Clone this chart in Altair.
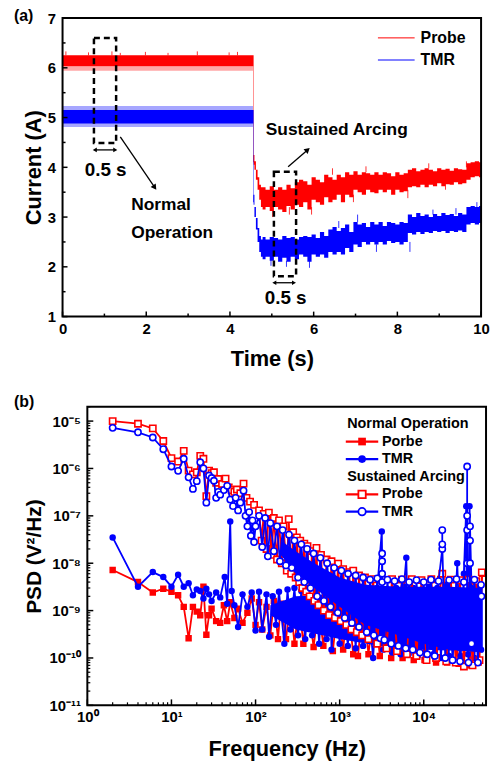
import altair as alt
import pandas as pd

FONT = "Liberation Sans"
RED = "#ff0000"
BLUE = "#0000ff"

# =================== (a) current vs time ===================
time_s = [0.0, 4.55, 4.56, 4.57, 4.60, 4.64, 4.68, 4.72, 4.76,
          4.8, 4.9, 5.0, 5.1, 5.2, 5.3, 5.4, 5.5, 5.6, 5.7, 5.8, 5.9,
          6.0, 6.1, 6.2, 6.3, 6.4, 6.5, 6.6, 6.7, 6.8, 6.9,
          7.0, 7.1, 7.2, 7.3, 7.4, 7.5, 7.6, 7.7, 7.8, 7.9,
          8.0, 8.1, 8.2, 8.3, 8.4, 8.5, 8.6, 8.7, 8.8, 8.9,
          9.0, 9.1, 9.2, 9.3, 9.4, 9.5, 9.6, 9.7, 9.8, 9.9, 10.0]
probe_lo = [6.03, 6.03, 4.10, 4.05, 3.95, 3.75, 3.55, 3.35, 3.20,
            3.15, 3.20, 3.12, 3.20, 3.15, 3.10, 3.22, 3.15, 3.25, 3.20, 3.30, 3.15,
            3.35, 3.30, 3.25, 3.40, 3.30, 3.35, 3.45, 3.30, 3.45, 3.40,
            3.55, 3.50, 3.45, 3.55, 3.50, 3.48, 3.55, 3.50, 3.55, 3.45,
            3.55, 3.50, 3.52, 3.60, 3.62, 3.60, 3.65, 3.60, 3.65, 3.62,
            3.68, 3.62, 3.66, 3.65, 3.70, 3.66, 3.68, 3.75, 3.80, 3.82, 3.80]
probe_hi = [6.25, 6.25, 6.25, 4.25, 4.12, 3.95, 3.80, 3.65, 3.60,
            3.60, 3.55, 3.62, 3.55, 3.60, 3.55, 3.65, 3.58, 3.70, 3.75, 3.72, 3.65,
            3.80, 3.75, 3.70, 3.85, 3.80, 3.75, 3.85, 3.80, 3.90, 3.85,
            3.92, 3.85, 3.90, 3.88, 3.85, 3.90, 3.85, 3.90, 3.88, 3.82,
            3.90, 3.85, 3.88, 3.95, 3.98, 3.92, 3.95, 3.98, 3.95, 3.92,
            3.98, 3.95, 3.97, 3.93, 3.98, 3.96, 3.95, 4.08, 4.10, 4.12, 4.10]
tmr_lo = [4.88, 4.88, 3.30, 3.25, 3.00, 2.75, 2.50, 2.30, 2.20,
          2.15, 2.20, 2.12, 2.20, 2.10, 2.18, 2.10, 2.20, 2.15, 2.25, 2.20, 2.10,
          2.25, 2.20, 2.25, 2.18, 2.30, 2.25, 2.30, 2.25, 2.38, 2.30,
          2.45, 2.40, 2.50, 2.45, 2.50, 2.45, 2.50, 2.45, 2.52, 2.48,
          2.50, 2.45, 2.50, 2.68, 2.65, 2.70, 2.66, 2.70, 2.68, 2.72,
          2.70, 2.72, 2.68, 2.72, 2.70, 2.73, 2.70, 2.85, 2.88, 2.85, 2.88]
tmr_hi = [5.15, 5.15, 5.15, 3.45, 3.20, 2.98, 2.78, 2.62, 2.55,
          2.60, 2.55, 2.60, 2.58, 2.55, 2.62, 2.58, 2.60, 2.55, 2.60, 2.62, 2.60,
          2.65, 2.58, 2.70, 2.62, 2.75, 2.80, 2.72, 2.78, 2.85, 2.70,
          2.90, 2.85, 2.88, 2.80, 2.90, 2.85, 2.90, 2.82, 2.90, 2.88,
          2.85, 2.90, 2.88, 3.05, 3.00, 3.08, 3.02, 3.05, 3.00, 3.06,
          3.02, 3.08, 3.04, 3.06, 3.02, 3.08, 3.05, 3.20, 3.22, 3.20, 3.22]

# light noise fringe during normal operation
fringe_t = [0.0, 4.55]
probe_fr_lo = [5.94, 5.94]
probe_fr_hi = [6.03, 6.03]
tmr_fr_lo = [4.81, 4.81]
tmr_fr_hi = [5.23, 5.23]

# isolated noise spikes
probe_spk_t = [0.08, 0.62, 1.18, 1.38, 1.98, 2.52, 3.22, 3.98, 4.18,
               5.02, 5.42, 5.95, 6.45, 6.95, 7.25, 8.25, 8.75, 9.15, 9.65]
probe_spk_lo = [6.25, 6.25, 6.25, 6.25, 6.25, 6.25, 6.25, 6.25, 6.25,
                3.00, 3.05, 3.05, 3.85, 3.30, 3.90, 3.38, 3.98, 3.55, 4.00]
probe_spk_hi = [6.33, 6.31, 6.33, 6.30, 6.32, 6.30, 6.33, 6.31, 6.32,
                3.15, 3.20, 3.20, 3.98, 3.45, 4.02, 3.55, 4.08, 3.68, 4.12]
tmr_spk_t = [4.98, 5.35, 5.90, 6.60, 7.05, 7.50, 8.30, 8.85, 9.40, 9.90]
tmr_spk_lo = [2.02, 2.00, 1.98, 2.78, 2.90, 2.30, 2.30, 3.05, 3.05, 3.20]
tmr_spk_hi = [2.15, 2.12, 2.12, 2.92, 3.05, 2.45, 2.50, 3.15, 3.18, 3.30]

# annotations (data coordinates)
box_t1 = [0.75, 5.05]
box_t2 = [1.28, 5.58]
box_v1 = [6.60, 3.91]
box_v2 = [4.49, 1.81]
span_t1 = [0.77, 5.06]
span_t2 = [1.26, 5.53]
span_v = [4.35, 1.68]
span_label = ["0.5 s", "0.5 s"]
span_label_t = [1.03, 5.33]
span_label_v = [3.95, 1.38]
arc_text = ["Sustained Arcing"]
arc_text_t = [4.855]
arc_text_v = [4.74]
norm_text = ["Normal", "Operation"]
norm_text_t = [1.64, 1.64]
norm_text_v = [3.24, 2.68]
arrow_norm = {"t1": [1.38], "v1": [4.61], "t2": [2.19], "v2": [3.61]}
arrow_arc = {"t1": [5.39], "v1": [4.01], "t2": [5.84], "v2": [4.34]}
legend_a = ["Probe", "TMR"]

a_x_major = [0, 2, 4, 6, 8, 10]
a_x_minor = [1, 3, 5, 7, 9]
a_y_major = [1, 2, 3, 4, 5, 6, 7]
a_y_minor = [1.5, 2.5, 3.5, 4.5, 5.5, 6.5]

WA, HA = 422, 301

sx_a = alt.Scale(domain=[0, 10], nice=False, zero=False)
sy_a = alt.Scale(domain=[1, 7], nice=False, zero=False)
ax_xa = alt.Axis(title="Time (s)", values=a_x_major, labelPadding=5, labelFlush=False,
                 titleY=42, titleBaseline="middle", titleAlign="center")
ax_ya = alt.Axis(title="Current (A)", values=a_y_major, labelPadding=7, labelFlush=False,
                 titleX=-29, titleY=HA / 2, titleAngle=270, titleBaseline="middle",
                 titleAlign="center")


def XA(f):
    return alt.X(f, type="quantitative", scale=sx_a, axis=ax_xa)


def YA(f):
    return alt.Y(f, type="quantitative", scale=sy_a, axis=ax_ya)


df_probe = pd.DataFrame({"t": time_s, "lo": probe_lo, "hi": probe_hi})
df_tmr = pd.DataFrame({"t": time_s, "lo": tmr_lo, "hi": tmr_hi})
df_pfr = pd.DataFrame({"t": fringe_t, "lo": probe_fr_lo, "hi": probe_fr_hi})
df_tfr = pd.DataFrame({"t": fringe_t, "lo": tmr_fr_lo, "hi": tmr_fr_hi})
df_pspk = pd.DataFrame({"t": probe_spk_t, "lo": probe_spk_lo, "hi": probe_spk_hi})
df_tspk = pd.DataFrame({"t": tmr_spk_t, "lo": tmr_spk_lo, "hi": tmr_spk_hi})

layers_a = []
layers_a.append(alt.Chart(df_pfr).mark_area(color=RED, opacity=0.35).encode(x=XA("t"), y=YA("lo"), y2="hi"))
layers_a.append(alt.Chart(df_tfr).mark_area(color=BLUE, opacity=0.35).encode(x=XA("t"), y=YA("lo"), y2="hi"))
layers_a.append(alt.Chart(df_probe).mark_area(color=RED, opacity=1, interpolate="step").encode(
    x=XA("t"), y=YA("lo"), y2="hi"))
layers_a.append(alt.Chart(df_tmr).mark_area(color=BLUE, opacity=1, interpolate="step").encode(
    x=XA("t"), y=YA("lo"), y2="hi"))
layers_a.append(alt.Chart(df_pspk).mark_rule(color=RED, strokeWidth=0.8).encode(x=XA("t"), y=YA("lo"), y2="hi"))
layers_a.append(alt.Chart(df_tspk).mark_rule(color=BLUE, strokeWidth=0.8).encode(x=XA("t"), y=YA("lo"), y2="hi"))

df_box = pd.DataFrame({"t1": box_t1, "t2": box_t2, "v1": box_v1, "v2": box_v2})
layers_a.append(alt.Chart(df_box).mark_rect(fillOpacity=0, stroke="black", strokeWidth=2.5,
                                            strokeDash=[6, 4]).encode(x=XA("t1"), x2="t2", y=YA("v1"), y2="v2"))
df_span = pd.DataFrame({"t1": span_t1, "t2": span_t2, "v": span_v})
layers_a.append(alt.Chart(df_span).mark_rule(color="black", strokeWidth=1.3).encode(x=XA("t1"), x2="t2", y=YA("v")))
layers_a.append(alt.Chart(df_span).mark_point(shape="triangle-left", filled=True, color="black", size=22, opacity=1)
                .encode(x=XA("t1"), y=YA("v")))
layers_a.append(alt.Chart(df_span).mark_point(shape="triangle-right", filled=True, color="black", size=22, opacity=1)
                .encode(x=XA("t2"), y=YA("v")))

for arr, ang in [(arrow_norm, 144.5), (arrow_arc, 48.7)]:
    d = pd.DataFrame(arr)
    layers_a.append(alt.Chart(d).mark_rule(color="black", strokeWidth=1.3)
                    .encode(x=XA("t1"), y=YA("v1"), x2="t2", y2="v2"))
    layers_a.append(alt.Chart(d).mark_point(shape="triangle", filled=True, color="black", size=40,
                                            opacity=1, angle=ang).encode(x=XA("t2"), y=YA("v2")))

df_sl = pd.DataFrame({"t": span_label_t, "v": span_label_v, "s": span_label})
layers_a.append(alt.Chart(df_sl).mark_text(font=FONT, fontWeight="bold", fontSize=19, align="center",
                                           baseline="middle", color="black").encode(x=XA("t"), y=YA("v"), text="s"))
df_at = pd.DataFrame({"t": arc_text_t + norm_text_t, "v": arc_text_v + norm_text_v, "s": arc_text + norm_text})
layers_a.append(alt.Chart(df_at).mark_text(font=FONT, fontWeight="bold", fontSize=17.5, align="left",
                                           baseline="middle", color="black").encode(x=XA("t"), y=YA("v"), text="s"))

# inward ticks
layers_a.append(alt.Chart(pd.DataFrame({"v": a_x_major})).mark_rule(color="black", strokeWidth=1.5)
                .encode(x=XA("v"), y=alt.value(HA), y2=alt.value(HA - 5)))
layers_a.append(alt.Chart(pd.DataFrame({"v": a_x_minor})).mark_rule(color="black", strokeWidth=1.5)
                .encode(x=XA("v"), y=alt.value(HA), y2=alt.value(HA - 3)))
layers_a.append(alt.Chart(pd.DataFrame({"v": a_y_major})).mark_rule(color="black", strokeWidth=1.5)
                .encode(y=YA("v"), x=alt.value(0), x2=alt.value(5)))
layers_a.append(alt.Chart(pd.DataFrame({"v": a_y_minor})).mark_rule(color="black", strokeWidth=1.5)
                .encode(y=YA("v"), x=alt.value(0), x2=alt.value(3)))

# legend (a)
for lab, col, yy in [(legend_a[0], RED, 20), (legend_a[1], BLUE, 42.3)]:
    d = pd.DataFrame({"s": [lab]})
    layers_a.append(alt.Chart(d).mark_rule(color=col, strokeWidth=1)
                    .encode(x=alt.value(318), x2=alt.value(355), y=alt.value(yy)))
    layers_a.append(alt.Chart(d).mark_text(font=FONT, fontWeight="bold", fontSize=16, align="left",
                                           baseline="middle", color="black")
                    .encode(x=alt.value(361), y=alt.value(yy), text="s"))

layers_a.append(alt.Chart(pd.DataFrame({"s": ["(a)"]})).mark_text(
    font=FONT, fontWeight="bold", fontSize=16, align="left", baseline="middle", color="black")
    .encode(x=alt.value(-49), y=alt.value(-2), text="s"))
# frame
layers_a.append(alt.Chart(pd.DataFrame({"s": ["frame"]})).mark_rect(
    fillOpacity=0, stroke="black", strokeWidth=2)
    .encode(x=alt.value(0), x2=alt.value(WA), y=alt.value(0), y2=alt.value(HA)))

chart_a = alt.layer(*layers_a).properties(width=WA, height=HA)

# =================== (b) PSD ===================
# Normal operation - Porbe (filled squares)
np_f = [2, 4, 6, 8, 10, 12, 14, 16, 18, 20, 22, 24, 26, 28, 30,
        34, 38, 42, 46, 50, 56, 62, 70, 80, 90, 100,
        110, 120, 135, 150, 165, 185, 200, 230, 260, 290,
        330, 370, 420, 490, 560, 640, 730, 830, 950, 1100,
        1250, 1450, 1650, 1900, 2200, 2600, 3000, 3500, 4100, 4800,
        5600, 6500, 7600, 8800, 10200, 12000, 14000, 16500, 19000, 22000,
        26000, 30000, 35000, 40000, 45000, 49500]
np_p = [7.2e-9, 4.0e-9, 2.4e-9, 2.9e-9, 2.5e-9, 2.1e-9, 1.2e-9, 2.6e-10, 1.2e-9, 9.5e-10,
        8e-10, 3.2e-9, 3.1e-10, 8e-10, 1.1e-9,
        6e-10, 5.5e-10, 1.3e-9, 6e-10, 1.5e-9, 7e-10, 1.1e-9, 5.5e-10, 9e-10, 1.8e-9, 5e-10,
        1.5e-9, 4e-10, 1.2e-9, 3e-10, 1.6e-9, 2.5e-10, 1.4e-9, 2.5e-10, 1.5e-9, 2e-10,
        1.3e-9, 2e-10, 1.4e-9, 1.7e-10, 1.2e-9, 1.8e-10, 1.5e-9, 1.4e-10, 1.3e-9, 1.5e-10,
        1.6e-9, 1.2e-10, 1.1e-10, 1.4e-9, 1.2e-10, 1.5e-9, 1.1e-10, 1.3e-9, 1e-10, 1.5e-9,
        1e-10, 1.4e-9, 9e-11, 1.5e-9, 9e-11, 1.4e-9, 8e-11, 1.5e-9, 8e-11, 1.3e-9,
        7.5e-11, 1.4e-9, 7e-11, 1.5e-9, 8e-11, 6e-9]

# Normal operation - TMR (filled circles)
nt_f = [2, 4, 6, 8, 10, 12, 14, 16, 18, 20, 22, 24, 26, 28, 30, 34, 38, 43, 46, 50,
        52, 56, 62, 70, 80, 90, 100,
        110, 120, 135, 145, 160, 175, 190, 220, 240, 260,
        290, 320, 350, 390, 430, 470, 520, 570, 630, 700,
        770, 800, 900, 1000, 1100, 1250, 1400, 1550, 1700, 1900,
        2100, 2500, 2800, 3170, 3300, 3700, 4200, 4700, 5300, 5800,
        6200, 6600, 7500, 8500, 9500, 10500, 11500, 13000, 14500, 16000,
        18000, 20000, 22000, 25000, 27500, 30000, 32000, 33500, 35000, 37000,
        40000, 44000, 48000]
nt_p = [3.5e-8, 3.2e-9, 6.5e-9, 5.1e-9, 3.2e-9, 5.7e-9, 3.2e-9, 3.8e-9, 2.1e-9, 2.8e-9,
        2.6e-9, 1.8e-9, 2.9e-9, 2.2e-9, 1.6e-9, 2.4e-9, 1.9e-9, 5.1e-9, 1.4e-9, 7.6e-8,
        2.6e-9, 1.3e-9, 4.5e-10, 2.2e-9, 1.2e-9, 2.4e-9, 3.8e-10,
        2.5e-9, 4e-10, 2.2e-9, 2.8e-10, 2e-9, 5e-10, 2.5e-9, 2e-10, 2.8e-9, 4e-10,
        3e-9, 3e-10, 2.6e-9, 2.5e-10, 3e-9, 3e-10, 2.8e-9, 2e-10, 3.2e-9, 2.5e-10,
        3e-9, 1.5e-10, 2.8e-9, 2e-10, 3e-9, 1.8e-10, 3.2e-9, 1.6e-10, 2.6e-9, 1.8e-10,
        3e-9, 1e-10, 3e-9, 4.7e-8, 1.5e-10, 2.8e-9, 1.3e-10, 3e-9, 1.2e-10, 3.2e-9,
        1.3e-8, 1.2e-10, 3e-9, 1.1e-10, 2.8e-9, 1e-10, 3.2e-9, 1.2e-10, 3e-9, 1e-10,
        3.5e-9, 1.1e-10, 9e-11, 1e-8, 1.1e-10, 6e-9, 1.6e-7, 1.2e-10, 1.6e-7, 3e-9,
        1e-10, 3e-9, 1.5e-10]

# Sustained arcing - Probe (open squares)
sp_f = [2, 4, 6, 8, 10, 12, 14, 16, 18, 20, 22, 24, 26, 28, 30, 32, 34, 36, 40, 44,
        48, 52, 56, 60, 66, 72, 78, 86, 96,
        110, 118, 125, 135, 144, 155, 165, 180, 190, 205,
        215, 235, 248, 265, 280, 300, 310, 330, 340, 360,
        380, 400, 415, 440, 470, 500, 530, 560, 600, 650,
        700, 750, 800, 880, 960, 1030, 1100, 1200, 1300, 1380,
        1450, 1600, 1700, 1850, 2000, 2200, 2500, 2800, 3200, 3600,
        4200, 4800, 5500, 6300, 7200, 8200, 9400, 10800, 12300, 14000,
        16000, 16600, 18500, 21000, 24000, 27000, 30000, 34000, 38000, 42000,
        46000, 49000]
sp_p = [1.0e-5, 8.8e-6, 7.0e-6, 3.8e-6, 1.65e-6, 1.4e-6, 2.35e-6, 9e-7, 7.5e-7, 8.3e-7,
        1.85e-6, 1.6e-6, 2.6e-7, 9e-7, 8e-7, 8.3e-7, 5e-7, 6e-7, 4.7e-7, 6.1e-7,
        4e-7, 3.5e-7, 3.2e-7, 3.6e-7, 3e-7, 4.8e-7, 2.4e-7, 2e-7, 1.7e-7,
        1.3e-7, 3e-8, 1.1e-7, 2e-8, 1.17e-7, 1.5e-8, 9e-8, 1.2e-8, 8e-8, 1e-8,
        6e-8, 7e-9, 8.5e-8, 6e-9, 4.5e-8, 5e-9, 3.5e-8, 4e-9, 3e-8, 3e-9,
        2.6e-8, 2.5e-9, 2.3e-8, 2e-9, 1.8e-8, 1.6e-9, 2.1e-8, 1.3e-9, 1.5e-8, 1e-9,
        1.2e-8, 8e-10, 1.1e-8, 7e-10, 9.8e-9, 6e-10, 7.5e-9, 5e-10, 6.5e-9, 4e-10,
        7e-9, 3.5e-10, 5.5e-9, 3e-10, 5e-9, 2.5e-10, 4.6e-9, 2e-10, 4.5e-9, 1.6e-10,
        4.6e-9, 1.4e-10, 4.5e-9, 1.2e-10, 4.6e-9, 1.1e-10, 4.4e-9, 9e-11, 4.6e-9, 1e-10,
        4.5e-9, 6e-9, 8.5e-11, 4.5e-9, 8e-11, 4.4e-9, 6.6e-11, 4.5e-9, 7e-11, 4.2e-9,
        9e-11, 6.4e-9]

# Sustained arcing - TMR (open circles)
st_f = [2, 4, 6, 8, 10, 12, 14, 16, 18, 20, 22, 24, 26, 28, 30, 32, 34, 36, 38, 42,
        46, 50, 54, 58, 62, 66, 72, 76, 80, 84, 88, 92, 96, 100,
        110, 120, 130, 140, 150, 165, 180, 195, 210, 230,
        250, 270, 290, 320, 350, 380, 410, 450, 490, 540,
        590, 650, 710, 780, 860, 950, 1050, 1150, 1260, 1400,
        1550, 1700, 1900, 2100, 2300, 2550, 2800, 3050, 3200, 3200,
        3200, 3200, 3400, 3700, 4100, 4500, 5000, 5500, 6100, 6700,
        7400, 8200, 9000, 10000, 11000, 12200, 13500, 15000, 16600, 16600,
        16600, 18000, 20000, 22000, 24500, 27000, 30000, 32800, 32800, 32800,
        32800, 34000, 35500, 35500, 35500, 37000, 40000, 44000, 48000, 48500]
st_p = [7.2e-6, 5.8e-6, 4.5e-6, 2.55e-6, 1.1e-6, 8.9e-7, 1.6e-6, 6.5e-7, 3.7e-7, 5.4e-7,
        1.35e-6, 1.0e-6, 1.9e-7, 7.1e-7, 6.3e-7, 5.5e-7, 2.4e-7, 3.2e-7, 2.8e-7, 3.5e-7,
        4.3e-7, 2.2e-7, 1.6e-7, 2.4e-7, 1.3e-7, 1.9e-7, 3.4e-7, 1.0e-7, 6e-8, 1.2e-7,
        3.8e-8, 8e-8, 2.8e-8, 6e-8,
        1.0e-7, 2.2e-8, 9e-8, 1.4e-8, 7e-8, 1.8e-8, 6e-8, 1.1e-8, 5e-8, 9e-9,
        4e-8, 8e-9, 3e-8, 5e-9, 2.5e-8, 4e-9, 2e-8, 3e-9, 1.6e-8, 2e-9,
        1.3e-8, 1.6e-9, 1e-8, 1.2e-9, 8e-9, 9e-10, 7e-9, 7e-10, 6e-9, 5.5e-10,
        5.5e-9, 4.5e-10, 5e-9, 3.5e-10, 4.5e-9, 3e-10, 4.8e-9, 2.6e-10, 6e-9, 1.6e-8,
        1.1e-8, 4e-9, 2.4e-10, 4.5e-9, 2e-10, 4.2e-9, 1.8e-10, 4.6e-9, 1.6e-10, 4e-9,
        1.5e-10, 4.4e-9, 1.3e-10, 4e-9, 1.2e-10, 4.5e-9, 1.1e-10, 4.2e-9, 2e-8, 5e-8,
        2.5e-8, 1e-10, 4.4e-9, 9e-11, 4.6e-9, 8.5e-11, 4e-9, 1e-7, 1.1e-6, 5e-8,
        1e-8, 8e-11, 3e-8, 6e-8, 1e-8, 2e-10, 4.5e-9, 8e-11, 3.5e-9, 2e-9]

# dense cores of the noise floor (where thousands of points overlap)
nt_band_f = [150, 300, 1000, 3000, 10000, 30000, 50000]
nt_band_lo = [8e-10, 4e-10, 2.5e-10, 1.8e-10, 1.5e-10, 1.4e-10, 1.4e-10]
nt_band_hi = [1.3e-9, 2e-9, 2.2e-9, 2.2e-9, 2.2e-9, 2.2e-9, 2.2e-9]
st_band_f = [200, 300, 500, 1000, 2000, 5000, 10000, 20000, 50000]
st_band_lo = [1.5e-8, 6e-9, 3e-9, 1.2e-9, 5e-10, 3e-10, 2e-10, 1.5e-10, 1.3e-10]
st_band_hi = [3e-8, 1.8e-8, 1e-8, 5e-9, 3.5e-9, 3.2e-9, 3.2e-9, 3.2e-9, 3e-9]

legend_b = ["Normal Operation", "Porbe", "TMR", "Sustained Arcing", "Probe", "TMR"]

b_x_major = [1, 10, 100, 1000, 10000]
b_x_minor = [m * 10 ** e for e in range(0, 5) for m in range(2, 10) if m * 10 ** e <= 55000]
b_y_major = [1e-11, 1e-10, 1e-9, 1e-8, 1e-7, 1e-6, 1e-5]
b_y_minor = [m * 10.0 ** e for e in range(-11, -4) for m in range(2, 10) if m * 10.0 ** e <= 2e-5]

OFF = 25          # panel (b) frame starts 25 px right of panel (a) frame
WB, HB = 402, 301
SUP = "['\u2070','\u00b9','\u00b2','\u00b3','\u2074','\u2075','\u2076','\u2077','\u2078','\u2079','\u00b9\u2070','\u00b9\u00b9']"

sx_b = alt.Scale(type="log", domain=[1, 55000], nice=False, range=[OFF, OFF + WB])
sy_b = alt.Scale(type="log", domain=[1e-11, 2e-5], nice=False)
ax_xb = alt.Axis(title="Frequency (Hz)", values=b_x_major, labelPadding=4, labelFlush=False,
                 labelExpr="'10' + " + SUP + "[round(log(datum.value)/LN10)]",
                 titleX=OFF + WB / 2, titleY=44, titleBaseline="middle", titleAlign="center")
ax_yb = alt.Axis(title="PSD (V\u00b2/Hz)", values=b_y_major, labelPadding=7, labelFlush=False, offset=-OFF,
                 labelExpr="'10\u207b' + " + SUP + "[round(-log(datum.value)/LN10)]",
                 titleX=-53, titleY=HB / 2, titleAngle=270, titleBaseline="middle",
                 titleAlign="center", titleFontSize=21)


def XB(f):
    return alt.X(f, type="quantitative", scale=sx_b, axis=ax_xb)


def YB(f):
    return alt.Y(f, type="quantitative", scale=sy_b, axis=ax_yb)


layers_b = []
df_ntb = pd.DataFrame({"f": nt_band_f, "lo": nt_band_lo, "hi": nt_band_hi})
df_stb = pd.DataFrame({"f": st_band_f, "lo": st_band_lo, "hi": st_band_hi})
series = [
    (np_f, np_p, RED, "square", True, None),
    (nt_f, nt_p, BLUE, "circle", True, df_ntb),
    (sp_f, sp_p, RED, "square", False, None),
    (st_f, st_p, BLUE, "circle", False, df_stb),
]
for f, p, col, shp, solid, band in series:
    if band is not None:
        layers_b.append(alt.Chart(band).mark_area(color=col, opacity=1, clip=True)
                        .encode(x=XB("f"), y=YB("lo"), y2="hi"))
    d = pd.DataFrame({"f": f, "p": p, "i": list(range(len(f)))})
    layers_b.append(alt.Chart(d).mark_line(color=col, strokeWidth=1.8, clip=True)
                    .encode(x=XB("f"), y=YB("p"), order=alt.Order("i:Q")))
    if solid:
        pm = alt.Chart(d).mark_point(shape=shp, filled=True, color=col, size=42, opacity=1, clip=True)
    else:
        pm = alt.Chart(d).mark_point(shape=shp, fill="white", fillOpacity=1, stroke=col, strokeWidth=1.6,
                                     size=40, opacity=1, clip=True)
    layers_b.append(pm.encode(x=XB("f"), y=YB("p")))

layers_b.append(alt.Chart(pd.DataFrame({"v": b_x_major})).mark_rule(color="black", strokeWidth=1.5)
                .encode(x=XB("v"), y=alt.value(HB), y2=alt.value(HB - 6)))
layers_b.append(alt.Chart(pd.DataFrame({"v": b_x_minor})).mark_rule(color="black", strokeWidth=1.2)
                .encode(x=XB("v"), y=alt.value(HB), y2=alt.value(HB - 3)))
layers_b.append(alt.Chart(pd.DataFrame({"v": b_y_major})).mark_rule(color="black", strokeWidth=1.5)
                .encode(y=YB("v"), x=alt.value(OFF), x2=alt.value(OFF + 6)))
layers_b.append(alt.Chart(pd.DataFrame({"v": b_y_minor})).mark_rule(color="black", strokeWidth=1.2)
                .encode(y=YB("v"), x=alt.value(OFF), x2=alt.value(OFF + 3)))

# legend (b)
heads = [(legend_b[0], 17.7), (legend_b[3], 71)]
for lab, yy in heads:
    layers_b.append(alt.Chart(pd.DataFrame({"s": [lab]})).mark_text(
        font=FONT, fontWeight="bold", fontSize=14.5, align="left", baseline="middle", color="black")
        .encode(x=alt.value(OFF + 262), y=alt.value(yy), text="s"))
rows = [(legend_b[1], 35, RED, "square", True), (legend_b[2], 52.7, BLUE, "circle", True),
        (legend_b[4], 88.3, RED, "square", False), (legend_b[5], 105.7, BLUE, "circle", False)]
for lab, yy, col, shp, solid in rows:
    d = pd.DataFrame({"s": [lab]})
    layers_b.append(alt.Chart(d).mark_rule(color=col, strokeWidth=2.2)
                    .encode(x=alt.value(OFF + 260.6), x2=alt.value(OFF + 293.3), y=alt.value(yy)))
    if solid:
        pm = alt.Chart(d).mark_point(shape=shp, filled=True, color=col, size=60, opacity=1)
    else:
        pm = alt.Chart(d).mark_point(shape=shp, fill="white", fillOpacity=1, stroke=col, strokeWidth=1.8,
                                     size=55, opacity=1)
    layers_b.append(pm.encode(x=alt.value(OFF + 277), y=alt.value(yy)))
    layers_b.append(alt.Chart(d).mark_text(font=FONT, fontWeight="bold", fontSize=14.5, align="left",
                                           baseline="middle", color="black")
                    .encode(x=alt.value(OFF + 297), y=alt.value(yy), text="s"))

layers_b.append(alt.Chart(pd.DataFrame({"s": ["(b)"]})).mark_text(
    font=FONT, fontWeight="bold", fontSize=16, align="left", baseline="middle", color="black")
    .encode(x=alt.value(OFF - 74), y=alt.value(-5), text="s"))
layers_b.append(alt.Chart(pd.DataFrame({"s": ["frame"]})).mark_rect(
    fillOpacity=0, stroke="black", strokeWidth=2)
    .encode(x=alt.value(OFF), x2=alt.value(OFF + WB), y=alt.value(0), y2=alt.value(HB)))

chart_b = alt.layer(*layers_b).properties(width=OFF + WB, height=HB)

chart = alt.concat(chart_a, chart_b, columns=1, spacing=23).properties(
    padding={"left": 5, "top": -4, "right": 0, "bottom": 0}
).configure_axis(
    labelFont=FONT, labelFontWeight="bold", labelFontSize=15, labelColor="black",
    titleFont=FONT, titleFontWeight="bold", titleFontSize=22, titleColor="black",
    domain=False, ticks=False, grid=False, labelOverlap=False
).configure_view(stroke="transparent")

chart.save("out.html", embed_options={"renderer": "svg", "actions": False})
